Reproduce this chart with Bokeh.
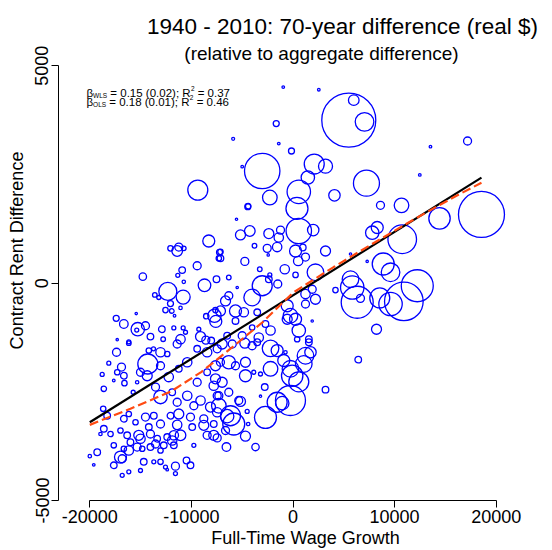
import numpy as np
from bokeh.plotting import figure
from bokeh.models import Label, Range1d, FixedTicker, ColumnDataSource
from bokeh.embed import file_html
from bokeh.resources import INLINE

# ---------------- data ----------------
wage_growth = [
    -9370, -960, 2540, 5490, 5980, 7040, -1650, -5890, -1400, -150,
    -5000, -3030, 2090, 3200, 1460, 7230, 570, -2280, 4080, 390,
    -4410, 13530, 17180, 12480, 8610, 10680, 18550, -8290, -11240, -11400,
    -12060, -10750, -7230, -7300, -9430, -10910, -11340, -14780, -7530, -10750,
    -8710, -12320, -10810, -13600, -13210, -12060, -11070, -12550, -11930, -11660,
    -15430, -7630, -8540, -7730, -7600, -17400, -16650, -15280, -15380, -14520,
    -12910, -11730, -10810, -10580, -9270, -9100, -8580, -8050, -11070, -14030,
    -12780, -17300, -16160, -4450, -5560, -4250, -5170, -2380, -1230, 570,
    1990, -1400, -1560, -2540, -3790, 250, 960, 1230, 510, 3200,
    -7140, -7140, -4740, -2440, -810, 250, -3270, -2280, -6320, 2210,
    -3030, -2380, -1500, -4020, -6320, -6640, -5490, 1890, 2210, 4180,
    5660, 5830, 6320, 6640, 7800, 5660, 1230, -5660, -7140, -4840,
    -3520, -570, 1230, -250, 250, -570, 1890, 570, 1560, -2210,
    -2710, -3370, -4020, -5660, -6480, -5000, 8220, 7300, 14420, 8290,
    10750, 8880, 9600, 12230, 10910, 9600, 8540, -17370, -16160, -14190,
    -13730, -13040, -12380, -11400, -9430, -8450, -7460, -18130, -16880, -17300,
    -16650, -18780, -18620, -16590, -17640, -15340, -15730, -15010, -14290, -14350,
    -13040, -12230, -13530, -11240, -10410, -9430, -8450, -7630, -7800, -7460,
    -13040, -11890, -11400, -10410, -9760, -9100, -8120, -7460, -11240, -12060,
    -10090, -8780, -18680, -18290, -16650, -16160, -15500, -14520, -13700, -13040,
    -14190, -11400, -9920, -8780, -7800, -18620, -17960, -18950, -16980, -16320,
    -15180, -15010, -14030, -13370, -12380, -11730, -11070, -9760, -8450, -7800,
    -19270, -20000, -17640, -16650, -16000, -15340, -14840, -16160, -14030, -13530,
    -13040, -12720, -11730, -11890, -16980, -16810, -17640, -19610, -16160, -16810,
    -15010, -14690, -13700, -13040, -12550, -11570, -10480, -10090, -11570, -12380,
    -6970, -5980, -4740, -4020, -3520, -2210, -1560, -910, -740, 1230,
    1720, 1060, 1560, 410, -250, -80, 570, -2210, -3200, -3860,
    -4680, -2780, -3200, -250, -1560, -1060, -2710, 3200, 6420, -5170,
    -4510, -4410, -6150, -5830, -6480, -6640, -4680, -6550, -3690, -7460,
    -7300, -6970, -7630, -6320, -5660, -4680, -7140, -7300, -6320, -5340,
]
rent_diff = [
    2140, 4510, 4450, 3750, 4210, 3710, 3670, 3320, 3210, 3040,
    2680, 2580, 2740, 2690, 2430, 2300, 2100, 1970, 2020, 1720,
    1770, 3140, 3270, 2490, 1790, 1790, 1580, 970, 830, 740,
    800, 800, 710, 570, 400, 300, 180, 150, 90, 30,
    -50, -190, -320, -270, -330, -470, -570, -620, -640, -750,
    -700, -620, -760, -750, -880, -810, -940, -1060, -1080, -980,
    -1060, -1030, -1030, -1130, -1060, -1230, -1310, -1320, -1290, -1230,
    -1290, -1300, -1350, 1760, 1470, 1200, 1110, 1140, 1220, 1200,
    1220, 1050, 830, 800, 860, 740, 820, 600, 510, 740,
    720, 570, 500, 650, 320, 190, 320, 190, 130, 250,
    -60, 90, -20, -330, -290, -410, -100, -140, -370, -160,
    90, -100, -440, -350, 1160, 670, -250, -640, -640, -670,
    -670, -520, -480, -750, -830, -830, -870, -1090, -1290, -1090,
    -940, -1250, -1020, -870, -1210, -1210, -1060, 500, 1490, 1280,
    1010, 440, 250, -60, -420, -480, -340, -1590, -1380, -1550,
    -1510, -1590, -1630, -1400, -1510, -1590, -1510, -1840, -1930, -2050,
    -2130, -2100, -2430, -2300, -2240, -2280, -2510, -2050, -1860, -2130,
    -1900, -2160, -2390, -1970, -1820, -2280, -2050, -1900, -2360, -2590,
    -2620, -2510, -2740, -2590, -2820, -2700, -2850, -2970, -3010, -3050,
    -3080, -3120, -2890, -3050, -3120, -3010, -3200, -3080, -3050, -3240,
    -3310, -3260, -3310, -3270, -3240, -3350, -3470, -3470, -3390, -3500,
    -3500, -3580, -3470, -3580, -3540, -3500, -3500, -3730, -3500, -3500,
    -3890, -3980, -3730, -3810, -3660, -3770, -3810, -3850, -3770, -3700,
    -3850, -3730, -3730, -3620, -4000, -4040, -4190, -4180, -4340, -4420,
    -4310, -4110, -4110, -4110, -4230, -4210, -4080, -4190, -4380, -4290,
    -1400, -1400, -1380, -1440, -1360, -1500, -1550, -1780, -1590, -1670,
    -1590, -1860, -1360, -1290, -1970, -2130, -2270, -1970, -2090, -2050,
    -2130, -2390, -2600, -2700, -2740, -2760, -3090, -2450, -1760, -2720,
    -2950, -3240, -3050, -3240, -3060, -3390, -3520, -3770, -3770, -3560,
    -2820, -2280, -2200, -1820, -1900, -1820, -1820, -2590, -2510, -2700,
]
population = [
    1000, 17, 17, 7290, 281, 865, 90, 22, 17, 90,
    17, 3133, 1000, 490, 449, 1690, 1369, 533, 325, 1210,
    73, 17, 160, 17, 160, 533, 5290, 360, 160, 281,
    73, 53, 90, 73, 160, 109, 40, 137, 109, 29,
    397, 810, 490, 53, 40, 90, 29, 73, 53, 17,
    14, 73, 73, 449, 360, 90, 185, 449, 40, 160,
    109, 40, 40, 40, 40, 250, 160, 109, 221, 109,
    53, 14, 40, 90, 14, 281, 250, 250, 160, 1613,
    325, 221, 221, 160, 53, 360, 109, 160, 221, 250,
    73, 109, 160, 14, 221, 73, 53, 40, 53, 689,
    1000, 109, 160, 689, 160, 250, 14, 160, 250, 73,
    689, 1369, 2560, 160, 449, 14, 221, 360, 250, 221,
    109, 360, 160, 533, 360, 250, 14, 449, 109, 221,
    109, 221, 73, 109, 109, 160, 250, 14, 1145, 360,
    2045, 1210, 865, 2560, 3725, 1369, 1000, 160, 53, 73,
    40, 221, 73, 160, 109, 221, 160, 40, 160, 73,
    109, 40, 73, 73, 17, 29, 40, 160, 1000, 250,
    160, 221, 160, 109, 221, 160, 109, 250, 221, 160,
    449, 109, 160, 221, 160, 221, 250, 221, 250, 109,
    160, 160, 73, 109, 109, 73, 73, 160, 109, 160,
    109, 221, 109, 250, 109, 109, 73, 29, 73, 109,
    250, 221, 160, 109, 109, 221, 281, 40, 160, 250,
    109, 29, 73, 73, 109, 160, 73, 221, 109, 160,
    73, 109, 109, 221, 360, 160, 109, 17, 40, 40,
    40, 109, 40, 73, 40, 160, 109, 109, 40, 17,
    250, 160, 250, 160, 109, 689, 360, 360, 29, 689,
    325, 689, 109, 73, 689, 1145, 1000, 533, 40, 40,
    360, 109, 14, 2250, 1000, 449, 1210, 109, 109, 250,
    40, 29, 1000, 1210, 449, 160, 250, 185, 137, 160,
    533, 250, 250, 449, 160, 250, 160, 160, 160, 160,
]

# weighted regression line (WLS) as drawn, and the dashed smooth curve
wls_intercept = -280
wls_slope = 0.146
smooth_x = [-20000, -16000, -12000, -9000, -6000, -3000, 0, 4000, 8000, 12000, 16000, 18550]
smooth_y = [-3260, -2890, -2490, -2040, -1480, -900, -220, 370, 930, 1480, 2000, 2310]

x_ticks = [-20000, -10000, 0, 10000, 20000]
x_tick_labels = ["-20000", "-10000", "0", "10000", "20000"]
y_ticks = [-5000, 0, 5000]
y_tick_labels = ["-5000", "0", "5000"]

title_text = "1940 - 2010: 70-year difference (real $)"
subtitle_text = "(relative to aggregate difference)"
x_label = "Full-Time Wage Growth"
y_label = "Contract Rent Difference"
wls_stats = ("WLS", "0.15", "0.02", "0.37")
ols_stats = ("OLS", "0.18", "0.01", "0.46")

# ---------------- layout ----------------
W, H = 552, 550
BL, BR, BT, BB = 58, 0, 0, 49
FW, FH = W - BL - BR, H - BT - BB
PX_PER_X = 469 / 46160.0           # horizontal pixel scale of the reference
PX_PER_Y = 453 / 10400.0           # vertical pixel scale of the reference
X_RANGE = (-23080, -23080 + FW / PX_PER_X)
Y_RANGE = (-5000, -5000 + FH / PX_PER_Y)
FONT = "Liberation Sans"

p = figure(width=W, height=H, output_backend="svg", toolbar_location=None,
           x_range=Range1d(*X_RANGE), y_range=Range1d(*Y_RANGE),
           min_border_left=BL, min_border_right=BR, min_border_top=BT,
           min_border_bottom=BB, title=None)
p.grid.visible = False
p.outline_line_color = None
p.background_fill_color = "white"
p.border_fill_color = "white"

radius = np.sqrt(np.array(population) / 10.0) / PX_PER_X

src = ColumnDataSource(dict(x=wage_growth, y=rent_diff, r=radius))
p.circle(x="x", y="y", radius="r", source=src, fill_color=None,
         line_color="#0000FF", line_width=1.3)

xmin, xmax = min(wage_growth), max(wage_growth)
p.line([xmin, xmax], [wls_intercept + wls_slope * xmin, wls_intercept + wls_slope * xmax],
       line_color="black", line_width=2.2)
p.line(smooth_x, smooth_y, line_color="#FF4A12", line_width=2.2, line_dash="9 4")

# axes
for ax, ticks, labels, bounds, title in (
        (p.xaxis[0], x_ticks, x_tick_labels, (-20000, 20000), x_label),
        (p.yaxis[0], y_ticks, y_tick_labels, (-5000, 5000), y_label)):
    ax.ticker = FixedTicker(ticks=ticks, minor_ticks=[])
    ax.major_label_overrides = {t: l for t, l in zip(ticks, labels)}
    ax.bounds = bounds
    ax.major_tick_out = 7
    ax.major_tick_in = 0
    ax.minor_tick_out = 0
    ax.minor_tick_in = 0
    ax.axis_line_color = "black"
    ax.axis_line_width = 1
    ax.major_tick_line_color = "black"
    ax.major_label_text_font = FONT
    ax.major_label_text_font_size = "18px"
    ax.major_label_text_color = "black"
    ax.major_label_text_line_height = 1.0
    ax.axis_label = title
    ax.axis_label_text_font = FONT
    ax.axis_label_text_font_size = "18px"
    ax.axis_label_text_font_style = "normal"
    ax.axis_label_text_color = "black"
    ax.axis_label_text_line_height = 1.0
p.xaxis.major_label_standoff = 2
p.xaxis.axis_label_standoff = 2
p.yaxis.major_label_standoff = 3
p.yaxis.axis_label_standoff = 6
p.yaxis.major_label_orientation = "vertical"


def add_label(text, cx, cy, size, align="left"):
    # canvas position -> frame-relative screen units
    p.add_layout(Label(x=cx - BL, y=(H - BB) - cy, x_units="screen", y_units="screen",
                       text=text, text_font=FONT, text_font_size=f"{size}px",
                       text_color="black", text_align=align, text_baseline="alphabetic"))


add_label(title_text, 342, 27, 22.5, align="center")
add_label(subtitle_text, 321, 54, 19, align="center")

# regression annotation with sub/superscripts
ADV = {' ': 0.278, '=': 0.584, '.': 0.278, '(': 0.333, ')': 0.333, ';': 0.278,
       'R': 0.722, 'W': 0.944, 'L': 0.556, 'S': 0.667, 'O': 0.778, 'β': 0.573}


def tw(s, fs):
    return sum(ADV.get(c, 0.556) for c in s) * fs


def piece(text, cx, base, fs):
    add_label(text, cx, base, fs)
    return cx + tw(text, fs)


F, S = 11.5, 6.5
for (sub, b, se, r2), base in ((wls_stats, 93.5), (ols_stats, 102.2)):
    cx = 86.0
    cx = piece("β", cx, base, F)
    cx = piece(sub, cx, base + 2.3, S)
    cx += tw(" ", F)
    cx = piece(f"= {b} ({se}); R", cx, base, F)
    cx = piece("2", cx + 0.3, base - 4.6, S)
    cx += tw(" ", F)
    piece(f"= {r2}", cx, base, F)

open("out.html", "w").write(file_html(p, INLINE))
